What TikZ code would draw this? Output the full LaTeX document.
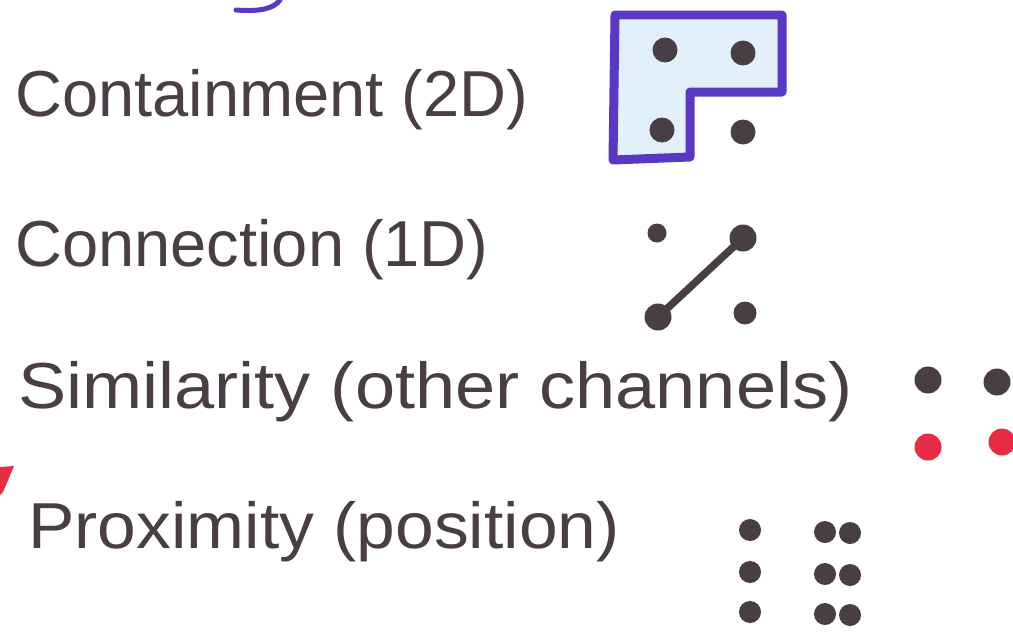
\documentclass[tikz,border=0pt]{standalone}
\usepackage{fontspec}
\setmainfont{Liberation Sans}
\usetikzlibrary{positioning}
\definecolor{ink}{RGB}{72,62,68}
\definecolor{pen}{RGB}{88,56,196}
\definecolor{paleblue}{RGB}{226,240,250}
\definecolor{redink}{RGB}{232,44,68}
\tikzset{
  hand/.style={anchor=base west, inner sep=0pt, text=ink,
    font=\fontsize{37}{40}\selectfont},
  dot/.style={circle, fill=ink, inner sep=0pt, minimum size=#1},
  dot/.default=0.5cm,
  reddot/.style={dot=0.54cm, fill=redink},
  outline/.style={draw=pen, line width=0.18cm, line join=round, fill=paleblue},
  link/.style={draw=ink, line width=0.15cm, line cap=round},
}
\begin{document}
\begin{tikzpicture}[x=0.02cm, y=-0.02cm]
  \useasboundingbox (0,0) rectangle (1013,632);

  % stray marks at the edges
  \draw[pen, line width=0.1cm, line cap=round] (236,10) .. controls (262,12) and (274,8) .. (280,0);
  \fill[redink] (0,467) -- (14,466) -- (3,492) -- (0,495) -- cycle;

  % labels
  \node[hand] (contain) at (15,116) {Containment (2D)};
  \node[hand] (connect) at (15,266) {Connection (1D)};
  \node[hand, xscale=1.11] (similar) at (18,408) {Similarity (other channels)};
  \node[hand, xscale=1.07] (proxim) at (28,548) {Proximity (position)};

  % containment
  \draw[outline] (615,15) -- (782,15) -- (782,92) -- (690,92) -- (690,157) -- (613,160) -- cycle;
  \node[dot] (a1) at (665,50) {};
  \node[dot] (a2) at (743,53) {};
  \node[dot] (a3) at (662,130) {};
  \node[dot] (a4) at (743,132) {};

  % connection
  \node[dot=0.38cm] (b1) at (657,233) {};
  \node[dot=0.54cm] (b2) at (743,238) {};
  \node[dot=0.54cm] (b3) at (658,317) {};
  \node[dot=0.46cm] (b4) at (745,313) {};
  \draw[link] (b2.center) -- (b3.center);

  % similarity
  \node[dot=0.54cm] (s1) at (928,380) {};
  \node[dot=0.54cm] (s2) at (997,382) {};
  \node[reddot] (s3) at (928,447) {};
  \node[reddot] (s4) at (1002,442) {};

  % proximity
  \foreach \y [count=\i] in {530,572,612} {
    \node[dot=0.44cm] (p\i) at (750,\y) {};
    \node[dot=0.44cm] (q\i) at (825,\y+2) {};
    \node[dot=0.44cm] (r\i) at (850,\y+3) {};
  }
\end{tikzpicture}
\end{document}
